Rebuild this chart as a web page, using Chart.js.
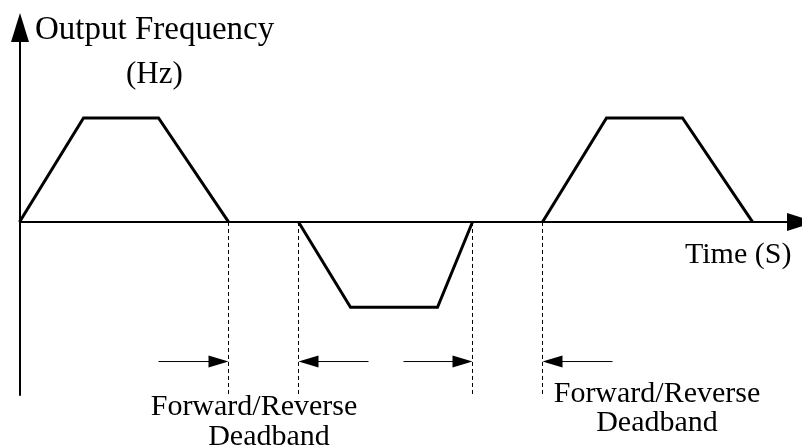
<!DOCTYPE html>
<html>
<head>
<meta charset="utf-8">
<script src="https://cdn.jsdelivr.net/npm/chart.js@4/dist/chart.umd.min.js"></script>
<style>
  html, body { margin: 0; padding: 0; background: #fff; }
  #wrap { width: 802px; height: 446px; }
</style>
</head>
<body>
<div id="wrap"><canvas id="chart" width="802" height="446"></canvas></div>
<script>
// 波形データ（時間 s / 周波数 Hz）
const pulseTimes = [
  [0, 6.4, 13.9, 20.9],
  [27.9, 33.1, 41.8, 45.3],
  [52.3, 58.7, 66.3, 73.3],
];
const pulseFreqs = [
  [0, 50, 50, 0],
  [0, -41, -41, 0],
  [0, 50, 50, 0],
];
// 正逆転デッドバンドの境界
const deadbandEdges = [20.9, 27.9, 45.3, 52.3];
const arrowTails = [13.9, 34.9, 38.4, 59.3];
const arrowHeads = [20.9, 27.9, 45.3, 52.3];
const guideBottom = -83.5;
const arrowLevel = -67.1;

const FONT = '"Liberation Serif", "Times New Roman", serif';

function tri(ctx, x, y, dx, dy, len, half) {
  // 先端 (x,y) 方向 (dx,dy) の塗りつぶし三角形
  const bx = x - dx * len, by = y - dy * len;
  ctx.beginPath();
  ctx.moveTo(x, y);
  ctx.lineTo(bx - dy * half, by + dx * half);
  ctx.lineTo(bx + dy * half, by - dx * half);
  ctx.closePath();
  ctx.fill();
}

const decorations = {
  id: 'decorations',
  beforeDatasetsDraw(chart) {
    const { ctx, scales: { x, y } } = chart;
    const x0 = Math.round(x.getPixelForValue(0)), y0 = Math.round(y.getPixelForValue(0));
    ctx.save();
    ctx.strokeStyle = '#000';
    ctx.fillStyle = '#000';
    ctx.lineWidth = 2;
    // 縦軸
    ctx.beginPath();
    ctx.moveTo(x0, y.getPixelForValue(guideBottom));
    ctx.lineTo(x0, 30);
    ctx.stroke();
    tri(ctx, x0, 13, 0, -1, 29, 9);
    // 横軸
    ctx.beginPath();
    ctx.moveTo(x0, y0);
    ctx.lineTo(790, y0);
    ctx.stroke();
    tri(ctx, 816, y0, 1, 0, 29, 9);
    ctx.restore();
  },
  afterDatasetsDraw(chart) {
    const { ctx, scales: { x, y } } = chart;
    const ay = y.getPixelForValue(arrowLevel);
    ctx.save();
    ctx.strokeStyle = '#000';
    ctx.fillStyle = '#000';
    ctx.lineWidth = 1;
    arrowTails.forEach((t, i) => {
      const xt = x.getPixelForValue(t), xh = x.getPixelForValue(arrowHeads[i]);
      const dir = Math.sign(xh - xt);
      ctx.beginPath();
      ctx.moveTo(xt, ay);
      ctx.lineTo(xh - dir * 12, ay);
      ctx.stroke();
      tri(ctx, xh, ay, dir, 0, 20, 6);
    });

    ctx.textBaseline = 'alphabetic';
    ctx.textAlign = 'left';
    ctx.font = '33px ' + FONT;
    ctx.fillText('Output Frequency', 35, 39);
    ctx.font = '31px ' + FONT;
    ctx.fillText('(Hz)', 126, 83);
    ctx.font = '30px ' + FONT;
    ctx.fillText('Time (S)', 685, 263);
    ctx.textAlign = 'center';
    ctx.fillText('Forward/Reverse', 254, 415);
    ctx.fillText('Deadband', 269, 445);
    ctx.fillText('Forward/Reverse', 657, 402);
    ctx.fillText('Deadband', 657, 431);
    ctx.restore();
  },
};

const datasets = pulseTimes.map((ts, i) => ({
  data: ts.map((t, j) => ({ x: t, y: pulseFreqs[i][j] })),
  borderColor: '#000',
  borderWidth: 3,
  borderJoinStyle: 'miter',
  pointRadius: 0,
  tension: 0,
}));
deadbandEdges.forEach(t => datasets.push({
  data: [{ x: t, y: 0 }, { x: t, y: guideBottom }],
  borderColor: '#000',
  borderWidth: 1,
  borderDash: [4, 3],
  pointRadius: 0,
}));

new Chart(document.getElementById('chart'), {
  type: 'line',
  data: { datasets },
  plugins: [decorations],
  options: {
    responsive: false,
    animation: false,
    devicePixelRatio: 1,
    layout: { padding: 0 },
    plugins: { legend: { display: false }, tooltip: { enabled: false } },
    scales: {
      x: { type: 'linear', min: -1.95, max: 78.25, display: false },
      y: { type: 'linear', min: -107.7, max: 106.7, display: false },
    },
  },
});
</script>
</body>
</html>
